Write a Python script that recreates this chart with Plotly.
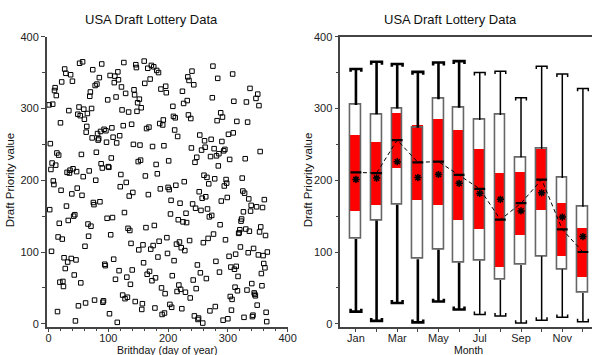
import numpy as np
import plotly.graph_objects as go

# Draft priority numbers (1970 lottery) by birth month, day order
jan = [305,159,251,215,101,224,306,199,194,325,329,221,318,238,17,121,235,140,58,280,186,337,118,59,52,92,355,77,349,164,211]
feb = [86,144,297,210,214,347,91,181,338,216,150,68,152,4,89,212,189,292,25,302,363,290,57,236,179,365,205,299,285]
mar = [108,29,267,275,293,139,122,213,317,323,136,300,259,354,169,166,33,332,200,239,334,265,256,258,343,170,268,223,362,217,30]
apr = [32,271,83,81,269,253,147,312,219,218,14,346,124,231,273,148,260,90,336,345,62,316,252,2,351,340,74,262,191,208]
may = [330,298,40,276,364,155,35,321,197,65,37,133,295,178,130,55,112,278,75,183,250,326,319,31,361,357,296,308,226,103,313]
jun = [249,228,301,20,28,110,85,366,335,206,134,272,69,356,180,274,73,341,104,360,60,247,109,358,137,22,64,222,353,209]
jul = [93,350,115,279,188,327,50,13,277,284,248,15,42,331,322,120,98,190,227,187,27,153,172,23,67,303,289,88,270,287,193]
aug = [111,45,261,145,54,114,168,48,106,21,324,142,307,198,102,44,154,141,311,344,291,339,116,36,286,245,352,167,61,333,11]
sep = [225,161,49,232,82,6,8,184,263,71,158,242,175,1,113,207,255,246,177,63,204,160,119,195,149,18,233,257,151,315]
oct_ = [359,125,244,202,24,87,234,283,342,220,237,72,138,294,171,254,288,5,241,192,243,117,201,196,176,7,264,94,229,38,79]
nov = [19,34,348,266,310,76,51,97,80,282,46,66,126,127,131,107,143,146,203,185,156,9,182,230,132,309,47,281,99,174]
dec = [129,328,157,165,56,10,12,105,43,41,39,314,163,26,320,96,304,128,240,135,70,53,162,95,84,173,78,123,16,3,100]

months_data = [jan, feb, mar, apr, may, jun, jul, aug, sep, oct_, nov, dec]
month_names = ["Jan","Feb","Mar","Apr","May","Jun","Jul","Aug","Sep","Oct","Nov","Dec"]
month_tick_text = ["Jan","","Mar","","May","","Jul","","Sep","","Nov",""]

priority = [v for m in months_data for v in m]
day_of_year = list(range(1, len(priority) + 1))

def sas_q(vals, p):
    v = sorted(vals)
    n = len(v)
    npv = n * p
    j = int(np.floor(npv))
    g = npv - j
    if g > 1e-9:
        return v[j]
    return (v[j - 1] + v[j]) / 2.0

mpos = list(range(1, 13))
q1 = [sas_q(m, 0.25) for m in months_data]
med = [sas_q(m, 0.5) for m in months_data]
q3 = [sas_q(m, 0.75) for m in months_data]
mins = [min(m) for m in months_data]
maxs = [max(m) for m in months_data]
means = [float(np.mean(m)) for m in months_data]
notch_lo = [md - 1.58 * (c - a) / np.sqrt(len(m)) for md, a, c, m in zip(med, q1, q3, months_data)]
notch_hi = [md + 1.58 * (c - a) / np.sqrt(len(m)) for md, a, c, m in zip(med, q1, q3, months_data)]

BW = 0.52
CAP = 4.0
FONT = "Liberation Sans, Arial, sans-serif"

fig = go.Figure()

# Left scatter
fig.add_trace(go.Scatter(x=day_of_year, y=priority, mode="markers",
                         marker=dict(symbol="square-open", size=4.5, color="black", line=dict(width=1)),
                         xaxis="x", yaxis="y", showlegend=False, hoverinfo="skip"))

# Right: white boxes
fig.add_trace(go.Bar(x=mpos, y=[c - a for a, c in zip(q1, q3)], base=q1, width=BW,
                     marker=dict(color="white", line=dict(width=0)),
                     xaxis="x2", yaxis="y2", showlegend=False))
# Red notch region
fig.add_trace(go.Bar(x=mpos, y=[h - l for l, h in zip(notch_lo, notch_hi)], base=notch_lo, width=BW,
                     marker=dict(color="#ff0000", line=dict(width=0)),
                     xaxis="x2", yaxis="y2", showlegend=False))
# Box outlines
fig.add_trace(go.Bar(x=mpos, y=[c - a for a, c in zip(q1, q3)], base=q1, width=BW,
                     marker=dict(color="rgba(0,0,0,0)", line=dict(width=1.6, color="#666666")),
                     xaxis="x2", yaxis="y2", showlegend=False))

def whisker_xy(idx):
    xs, ys = [], []
    for i in idx:
        x = mpos[i]
        xs += [x, x, None, x, x, None]
        ys += [q3[i], maxs[i], None, q1[i], mins[i], None]
        h = BW / 2
        xs += [x - h, x - h, x + h, x + h, None]
        ys += [maxs[i] - CAP, maxs[i], maxs[i], maxs[i] - CAP, None]
        xs += [x - h, x - h, x + h, x + h, None]
        ys += [mins[i] + CAP, mins[i], mins[i], mins[i] + CAP, None]
    return xs, ys

for idx, w in [(range(0, 6), 2.6), (range(6, 12), 1.5)]:
    xs, ys = whisker_xy(idx)
    fig.add_trace(go.Scatter(x=xs, y=ys, mode="lines", line=dict(color="black", width=w),
                             xaxis="x2", yaxis="y2", showlegend=False, hoverinfo="skip"))

# Median dashed connecting line
fig.add_trace(go.Scatter(x=mpos, y=med, mode="lines", line=dict(color="black", width=1, dash="4px,3px"),
                         xaxis="x2", yaxis="y2", showlegend=False, hoverinfo="skip"))

# Median bars
mx, my = [], []
for x, m in zip(mpos, med):
    mx += [x - BW / 2, x + BW / 2, None]
    my += [m, m, None]
fig.add_trace(go.Scatter(x=mx, y=my, mode="lines", line=dict(color="black", width=2.2),
                         xaxis="x2", yaxis="y2", showlegend=False, hoverinfo="skip"))

# Means
fig.add_trace(go.Scatter(x=mpos, y=means, mode="markers",
                         marker=dict(symbol="asterisk-open", size=6, color="black", line=dict(width=1.5, color="black")),
                         xaxis="x2", yaxis="y2", showlegend=False, hoverinfo="skip"))

W, H = 601, 355
def px(x): return x / W
def py(y): return (H - y) / H

axis_common = dict(showline=True, linecolor="#444444", linewidth=1.5, ticks="outside",
                   tickcolor="#444444", ticklen=4, tickwidth=1.2, showgrid=False, zeroline=False,
                   tickfont=dict(family=FONT, size=11, color="#222222"))

def ann(text, x, y, size=11, angle=0):
    return dict(text=text, x=px(x), y=py(y), xref="paper", yref="paper", xanchor="center",
                yanchor="middle", showarrow=False, textangle=angle,
                font=dict(family=FONT, size=size, color="#111111"))

fig.update_layout(
    width=W, height=H, margin=dict(l=0, r=0, t=0, b=0),
    paper_bgcolor="white", plot_bgcolor="white",
    barmode="overlay", bargap=0,
    xaxis=dict(domain=[px(46.5), px(291.5)], range=[-3, 400], tickmode="linear", tick0=0, dtick=100,
               minor=dict(ticks="outside", dtick=20, ticklen=2.5, tickcolor="#444444"),
               anchor="y", ticklabelstandoff=-4, **axis_common),
    yaxis=dict(domain=[py(329), py(31.5)], range=[-4, 400], tickmode="linear", tick0=0, dtick=100,
               minor=dict(ticks="outside", dtick=50, ticklen=2.5, tickcolor="#444444"),
               anchor="x", **axis_common),
    xaxis2=dict(domain=[px(345), 1.0], range=[0.24, 12.44], tickmode="array", tickvals=mpos,
                ticktext=month_tick_text, anchor="y2", mirror=True, ticklabelstandoff=-4, **axis_common),
    yaxis2=dict(domain=[py(329), py(31.5)], range=[-4, 400], tickmode="linear", tick0=0, dtick=100,
                minor=dict(ticks="outside", dtick=50, ticklen=2.5, tickcolor="#444444"),
                anchor="x2", **axis_common),
    annotations=[
        ann("USA Draft Lottery Data", 153, 14, 13),
        ann("USA Draft Lottery Data", 457, 14, 13),
        ann("Brithday (day of year)", 169, 352.5, 10.5),
        ann("Month", 475, 352.5, 10.5),
        ann("Draft Priority value", 10, 178, 11.5, -90),
        ann("Draft Priority value", 313, 178, 11.5, -90),
    ],
)

fig.write_html("out.html")
